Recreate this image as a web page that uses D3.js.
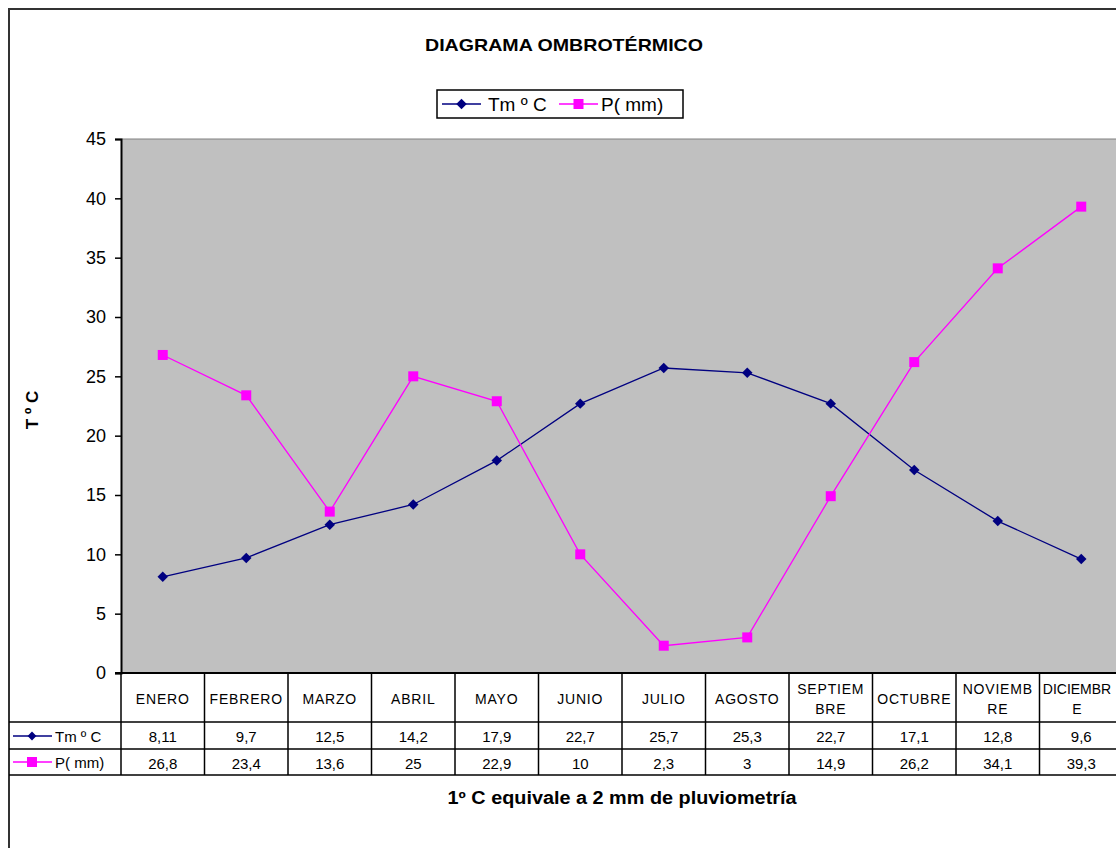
<!DOCTYPE html>
<html>
<head>
<meta charset="utf-8">
<script src="https://cdn.jsdelivr.net/npm/d3@7"></script>
<style>
  body { margin: 0; background: #fff; }
  svg { display: block; font-family: "Liberation Sans", Arial, sans-serif; }
</style>
</head>
<body>
<div id="chart"></div>
<script>
const months = ['ENERO','FEBRERO','MARZO','ABRIL','MAYO','JUNIO','JULIO','AGOSTO','SEPTIEMBRE','OCTUBRE','NOVIEMBRE','DICIEMBRE'];
// header lines as printed in the table (wrapped)
const monthLines = [['ENERO'],['FEBRERO'],['MARZO'],['ABRIL'],['MAYO'],['JUNIO'],['JULIO'],['AGOSTO'],['SEPTIEM','BRE'],['OCTUBRE'],['NOVIEMB','RE'],['DICIEMBR','E']];
const temp = [8.11, 9.7, 12.5, 14.2, 17.9, 22.7, 25.7, 25.3, 22.7, 17.1, 12.8, 9.6];
const tempLabels = ['8,11','9,7','12,5','14,2','17,9','22,7','25,7','25,3','22,7','17,1','12,8','9,6'];
const prec = [26.8, 23.4, 13.6, 25, 22.9, 10, 2.3, 3, 14.9, 26.2, 34.1, 39.3];
const precLabels = ['26,8','23,4','13,6','25','22,9','10','2,3','3','14,9','26,2','34,1','39,3'];
const yTicks = [0,5,10,15,20,25,30,35,40,45];

const width = 1116, height = 848;
const plot = {left: 121, top: 139, right: 1123, bottom: 673};
const rowTm = 722, rowP = 749, rowEnd = 775;

const svg = d3.select('#chart').append('svg').attr('width', width).attr('height', height);

// outer frame
svg.append('rect').attr('x', 9).attr('y', 9).attr('width', 1130).attr('height', 860)
  .attr('fill', '#fff').attr('stroke', '#333').attr('stroke-width', 2);

const x = d3.scaleBand().domain(months).range([plot.left, plot.right]);
const y = d3.scaleLinear().domain([0, 45]).range([plot.bottom, plot.top]);

// plot background
svg.append('rect').attr('x', plot.left).attr('y', plot.top)
  .attr('width', plot.right - plot.left).attr('height', plot.bottom - plot.top)
  .attr('fill', '#c0c0c0');
svg.append('line').attr('x1', plot.left).attr('x2', plot.right).attr('y1', plot.top).attr('y2', plot.top)
  .attr('stroke', '#808080').attr('stroke-width', 1);

// y axis
const yAxis = svg.append('g').attr('transform', 'translate(' + plot.left + ',0)')
  .call(d3.axisLeft(y).tickValues(yTicks).tickSize(6).tickPadding(9));
yAxis.select('.domain').attr('stroke', '#000').attr('stroke-width', 2);
yAxis.selectAll('.tick line').attr('stroke', '#000').attr('stroke-width', 1.5);
yAxis.selectAll('.tick text').attr('font-size', 18).attr('fill', '#000')
  .attr('font-family', '"Liberation Sans", Arial, sans-serif');

// y title
svg.append('text').attr('transform', 'translate(38,410) rotate(-90)')
  .attr('text-anchor', 'middle').attr('font-size', 17).attr('font-weight', 'bold')
  .text('T º C');

// title
svg.append('text').attr('x', 564).attr('y', 51).attr('text-anchor', 'middle')
  .attr('font-size', 17).attr('font-weight', 'bold')
  .attr('textLength', 278).attr('lengthAdjust', 'spacingAndGlyphs')
  .text('DIAGRAMA OMBROTÉRMICO');

// lines
const cx = d => x(d) + x.bandwidth() / 2;
const lineT = d3.line().x((d, i) => cx(months[i])).y(d => y(d));
svg.append('path').datum(temp).attr('d', lineT).attr('fill', 'none')
  .attr('stroke', '#000080').attr('stroke-width', 1.3);
svg.append('path').datum(prec).attr('d', lineT).attr('fill', 'none')
  .attr('stroke', '#ff00ff').attr('stroke-width', 1.3);

const diamond = d3.symbol().type(d3.symbolDiamond2).size(70);
svg.selectAll('path.tm').data(temp).enter().append('path').attr('class', 'tm')
  .attr('d', diamond)
  .attr('transform', (d, i) => 'translate(' + cx(months[i]) + ',' + y(d) + ')')
  .attr('fill', '#000080');
svg.selectAll('rect.pm').data(prec).enter().append('rect').attr('class', 'pm')
  .attr('x', (d, i) => cx(months[i]) - 5).attr('y', d => y(d) - 5)
  .attr('width', 10).attr('height', 10).attr('fill', '#ff00ff');

// legend
const lg = svg.append('g');
lg.append('rect').attr('x', 437).attr('y', 90).attr('width', 246).attr('height', 28)
  .attr('fill', '#fff').attr('stroke', '#000').attr('stroke-width', 1.5);
lg.append('line').attr('x1', 442).attr('x2', 481).attr('y1', 104).attr('y2', 104).attr('stroke', '#000080').attr('stroke-width', 1.3);
lg.append('path').attr('d', diamond).attr('transform', 'translate(461.5,104)').attr('fill', '#000080');
lg.append('text').attr('x', 488).attr('y', 111).attr('font-size', 19).text('Tm º C');
lg.append('line').attr('x1', 559).attr('x2', 598).attr('y1', 104).attr('y2', 104).attr('stroke', '#ff00ff').attr('stroke-width', 1.3);
lg.append('rect').attr('x', 573.5).attr('y', 99).attr('width', 10).attr('height', 10).attr('fill', '#ff00ff');
lg.append('text').attr('x', 601).attr('y', 111).attr('font-size', 19).text('P( mm)');

// data table
const tbl = svg.append('g').attr('stroke', '#000').attr('stroke-width', 1.5);
[rowTm, rowP, rowEnd].forEach(yy => {
  tbl.append('line').attr('x1', 9).attr('x2', width).attr('y1', yy).attr('y2', yy);
});
tbl.append('line').attr('x1', plot.left).attr('x2', plot.left).attr('y1', plot.bottom).attr('y2', rowEnd);
months.forEach(m => {
  tbl.append('line').attr('x1', x(m) + x.bandwidth()).attr('x2', x(m) + x.bandwidth())
    .attr('y1', plot.bottom).attr('y2', rowEnd);
});
svg.append('line').attr('x1', plot.left - 6).attr('x2', plot.right).attr('y1', plot.bottom).attr('y2', plot.bottom)
  .attr('stroke', '#000').attr('stroke-width', 2);

const hdr = svg.append('g').attr('font-size', 14).attr('text-anchor', 'middle');
months.forEach((m, i) => {
  const lines = monthLines[i];
  const y0 = lines.length === 1 ? 704 : 694;
  lines.forEach((t, j) => {
    const last = i === months.length - 1;
    hdr.append('text').attr('x', last ? 1077 : cx(m)).attr('y', y0 + j * 20)
      .attr('letter-spacing', last ? 0 : 0.8).text(t);
  });
});

const vals = svg.append('g').attr('font-size', 15).attr('text-anchor', 'middle');
months.forEach((m, i) => {
  vals.append('text').attr('x', cx(m)).attr('y', rowTm + 20).text(tempLabels[i]);
  vals.append('text').attr('x', cx(m)).attr('y', rowP + 20).text(precLabels[i]);
});

// row legends
svg.append('line').attr('x1', 13).attr('x2', 52).attr('y1', 736).attr('y2', 736).attr('stroke', '#000080').attr('stroke-width', 1.3);
svg.append('path').attr('d', d3.symbol().type(d3.symbolDiamond2).size(50)).attr('transform', 'translate(32,736)').attr('fill', '#000080');
svg.append('text').attr('x', 55).attr('y', 742).attr('font-size', 15).text('Tm º C');
svg.append('line').attr('x1', 13).attr('x2', 52).attr('y1', 762).attr('y2', 762).attr('stroke', '#ff00ff').attr('stroke-width', 1.3);
svg.append('rect').attr('x', 27).attr('y', 757).attr('width', 10).attr('height', 10).attr('fill', '#ff00ff');
svg.append('text').attr('x', 55).attr('y', 768).attr('font-size', 15).text('P( mm)');

// footnote
svg.append('text').attr('x', 622).attr('y', 804).attr('text-anchor', 'middle')
  .attr('font-size', 18).attr('font-weight', 'bold')
  .attr('textLength', 349).attr('lengthAdjust', 'spacingAndGlyphs')
  .text('1º C equivale a 2 mm de pluviometría');
</script>
</body>
</html>
